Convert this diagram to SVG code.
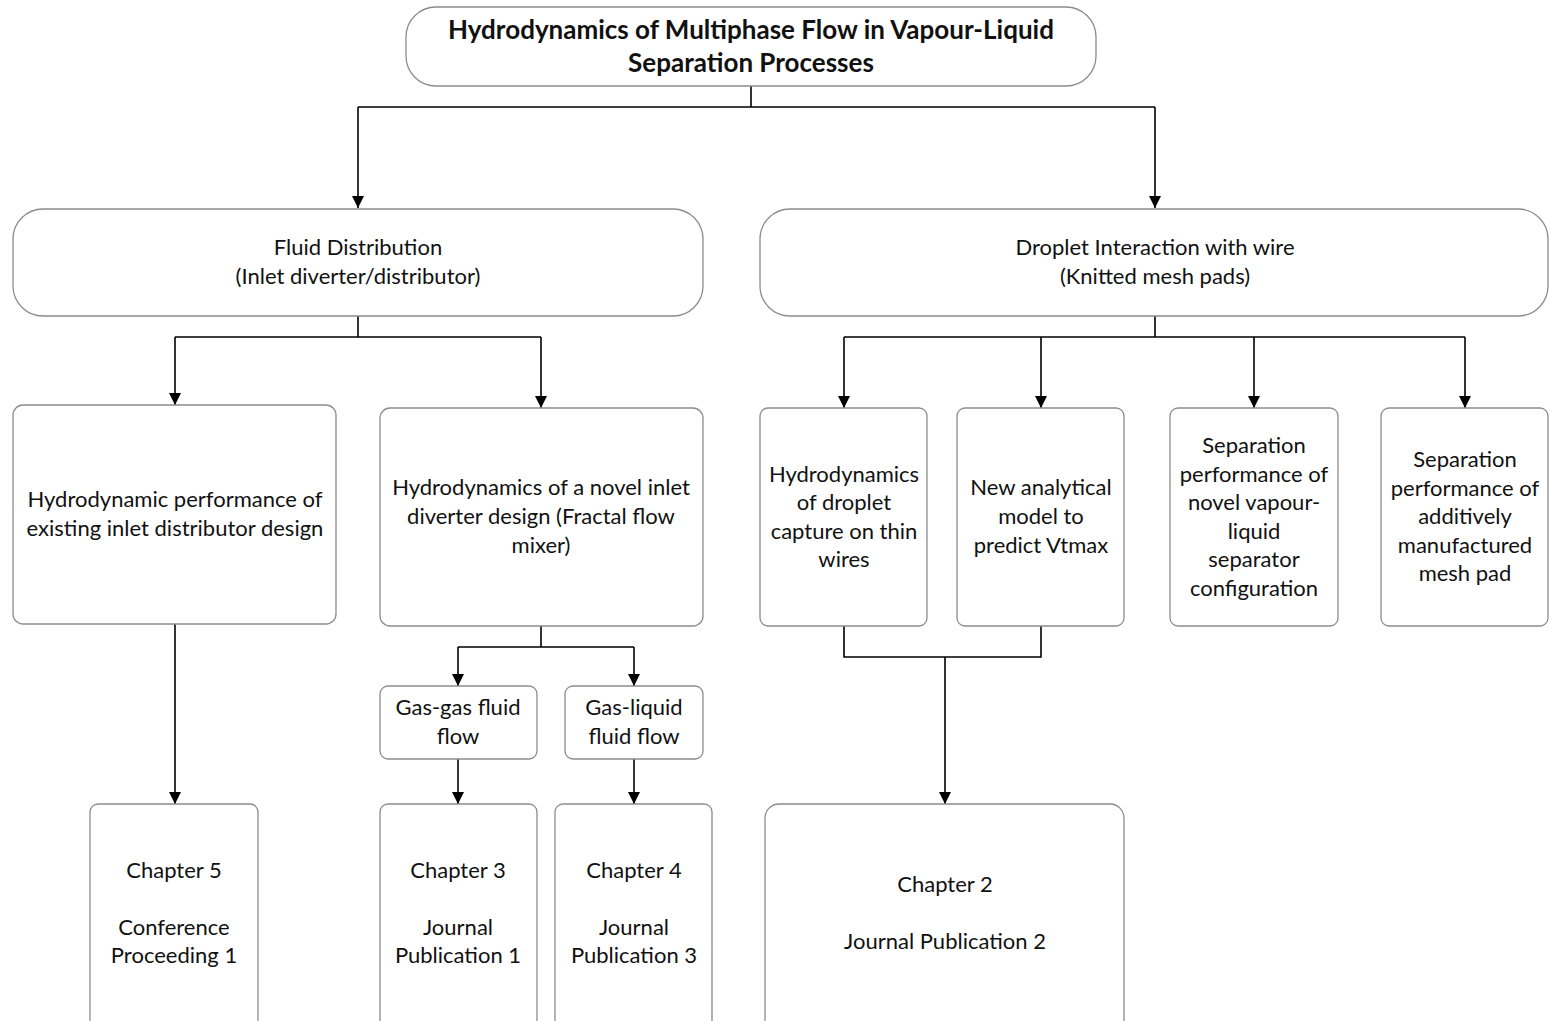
<svg xmlns="http://www.w3.org/2000/svg" width="1549" height="1021" viewBox="0 0 1549 1021">
<style>
.box{fill:#fff;stroke:#8c8c8c;stroke-width:1.3}
.t{font-family:Lato,"Open Sans","Liberation Sans",sans-serif;font-size:22px;fill:#111;text-anchor:middle}
.title{font-family:Lato,"Open Sans","Liberation Sans",sans-serif;font-size:26px;font-weight:bold;fill:#111;text-anchor:middle}
.c{fill:none;stroke:#000;stroke-width:1.6}
</style>
<defs>
<marker id="ah" markerUnits="userSpaceOnUse" markerWidth="13" markerHeight="12" refX="12" refY="6" orient="auto" viewBox="0 0 13 12">
<path d="M0,0 L12,6 L0,12 Z" fill="#000"/>
</marker>
</defs>
<rect width="1549" height="1021" fill="#fff"/>
<g id="connectors">
<path class="c" d="M751,86 V107 M358,107 H1155"/>
<path class="c" d="M358,107 V208" marker-end="url(#ah)"/>
<path class="c" d="M1155,107 V208" marker-end="url(#ah)"/>
<path class="c" d="M358,316 V337 M175,337 H541"/>
<path class="c" d="M175,337 V405" marker-end="url(#ah)"/>
<path class="c" d="M541,337 V408" marker-end="url(#ah)"/>
<path class="c" d="M1155,316 V337 M844,337 H1465"/>
<path class="c" d="M844,337 V408" marker-end="url(#ah)"/>
<path class="c" d="M1041,337 V408" marker-end="url(#ah)"/>
<path class="c" d="M1254,337 V408" marker-end="url(#ah)"/>
<path class="c" d="M1465,337 V408" marker-end="url(#ah)"/>
<path class="c" d="M541,626 V647 M458,647 H634"/>
<path class="c" d="M458,647 V686" marker-end="url(#ah)"/>
<path class="c" d="M634,647 V686" marker-end="url(#ah)"/>
<path class="c" d="M458,759 V804" marker-end="url(#ah)"/>
<path class="c" d="M634,759 V804" marker-end="url(#ah)"/>
<path class="c" d="M175,624 V804" marker-end="url(#ah)"/>
<path class="c" d="M844,626 V657 H1041 V626"/>
<path class="c" d="M945,657 V804" marker-end="url(#ah)"/>
</g>
<g id="n-root">
<rect class="box" x="406" y="7" width="690" height="79" rx="30"/>
<text class="title" x="751" y="39">Hydrodynamics of Multiphase Flow in Vapour-Liquid</text>
<text class="title" x="751" y="72">Separation Processes</text>
</g>
<g id="n-fluid">
<rect class="box" x="13" y="209" width="690" height="107" rx="30"/>
<text class="t" x="358" y="255">Fluid Distribution</text>
<text class="t" x="358" y="284">(Inlet diverter/distributor)</text>
</g>
<g id="n-droplet">
<rect class="box" x="760" y="209" width="788" height="107" rx="30"/>
<text class="t" x="1155" y="255">Droplet Interaction with wire</text>
<text class="t" x="1155" y="284">(Knitted mesh pads)</text>
</g>
<g id="n-existing">
<rect class="box" x="13" y="405" width="323" height="219" rx="10"/>
<text class="t" x="175" y="507">Hydrodynamic performance of</text>
<text class="t" x="175" y="536">existing inlet distributor design</text>
</g>
<g id="n-novel">
<rect class="box" x="380" y="408" width="323" height="218" rx="10"/>
<text class="t" x="541" y="495">Hydrodynamics of a novel inlet</text>
<text class="t" x="541" y="524">diverter design (Fractal flow</text>
<text class="t" x="541" y="553">mixer)</text>
</g>
<g id="n-gasgas">
<rect class="box" x="380" y="686" width="157" height="73" rx="8"/>
<text class="t" x="458" y="715">Gas-gas fluid</text>
<text class="t" x="458" y="744">flow</text>
</g>
<g id="n-gasliquid">
<rect class="box" x="565" y="686" width="138" height="73" rx="8"/>
<text class="t" x="634" y="715">Gas-liquid</text>
<text class="t" x="634" y="744">fluid flow</text>
</g>
<g id="n-ch5">
<rect class="box" x="90" y="804" width="168" height="240" rx="8"/>
<text class="t" x="174" y="878">Chapter 5</text>
<text class="t" x="174" y="935">Conference</text>
<text class="t" x="174" y="963">Proceeding 1</text>
</g>
<g id="n-ch3">
<rect class="box" x="380" y="804" width="157" height="240" rx="8"/>
<text class="t" x="458" y="878">Chapter 3</text>
<text class="t" x="458" y="935">Journal</text>
<text class="t" x="458" y="963">Publication 1</text>
</g>
<g id="n-ch4">
<rect class="box" x="555" y="804" width="157" height="240" rx="8"/>
<text class="t" x="634" y="878">Chapter 4</text>
<text class="t" x="634" y="935">Journal</text>
<text class="t" x="634" y="963">Publication 3</text>
</g>
<g id="n-capture">
<rect class="box" x="760" y="408" width="167" height="218" rx="8"/>
<text class="t" x="844" y="482">Hydrodynamics</text>
<text class="t" x="844" y="510">of droplet</text>
<text class="t" x="844" y="539">capture on thin</text>
<text class="t" x="844" y="567">wires</text>
</g>
<g id="n-vtmax">
<rect class="box" x="957" y="408" width="167" height="218" rx="8"/>
<text class="t" x="1041" y="495">New analytical</text>
<text class="t" x="1041" y="524">model to</text>
<text class="t" x="1041" y="553">predict Vtmax</text>
</g>
<g id="n-config">
<rect class="box" x="1170" y="408" width="168" height="218" rx="8"/>
<text class="t" x="1254" y="453">Separation</text>
<text class="t" x="1254" y="482">performance of</text>
<text class="t" x="1254" y="510">novel vapour-</text>
<text class="t" x="1254" y="539">liquid</text>
<text class="t" x="1254" y="567">separator</text>
<text class="t" x="1254" y="596">configuration</text>
</g>
<g id="n-additive">
<rect class="box" x="1381" y="408" width="167" height="218" rx="8"/>
<text class="t" x="1465" y="467">Separation</text>
<text class="t" x="1465" y="496">performance of</text>
<text class="t" x="1465" y="524">additively</text>
<text class="t" x="1465" y="553">manufactured</text>
<text class="t" x="1465" y="581">mesh pad</text>
</g>
<g id="n-ch2">
<rect class="box" x="765" y="804" width="359" height="240" rx="14"/>
<text class="t" x="945" y="892">Chapter 2</text>
<text class="t" x="945" y="949">Journal Publication 2</text>
</g>
</svg>
